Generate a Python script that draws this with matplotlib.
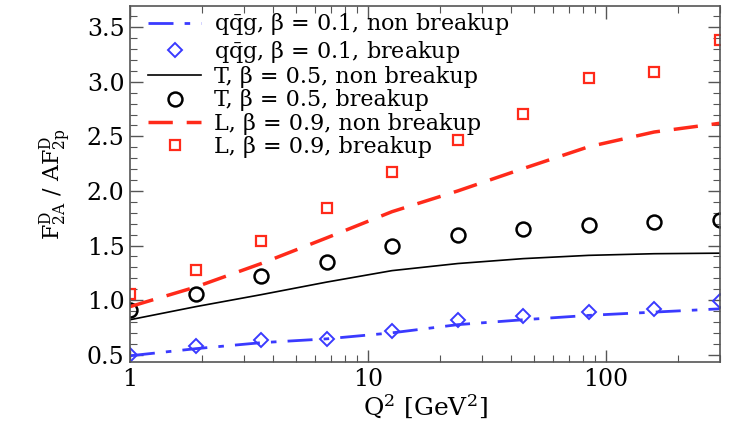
import matplotlib
matplotlib.use("Agg")
import matplotlib.pyplot as plt
from matplotlib.ticker import FixedLocator, MultipleLocator, NullFormatter

plt.rcParams['font.family'] = ['DejaVu Serif']
plt.rcParams['mathtext.fontset'] = 'dejavuserif'

# Q^2 grid [GeV^2]
q2 = [1.0, 1.89, 3.56, 6.70, 12.6, 23.8, 44.8, 84.4, 159.0, 300.0]

# qqg, beta = 0.1
qqg_nonbreak = [0.49, 0.555, 0.61, 0.645, 0.70, 0.775, 0.82, 0.86, 0.89, 0.92]
qqg_break = [0.495, 0.575, 0.63, 0.645, 0.715, 0.815, 0.855, 0.895, 0.92, 0.99]

# T, beta = 0.5
t_nonbreak = [0.82, 0.94, 1.05, 1.165, 1.27, 1.335, 1.38, 1.41, 1.425, 1.43]
t_break = [0.905, 1.06, 1.22, 1.345, 1.50, 1.595, 1.655, 1.69, 1.72, 1.73]

# L, beta = 0.9
l_nonbreak = [0.94, 1.12, 1.335, 1.57, 1.81, 2.0, 2.205, 2.405, 2.54, 2.62]
l_break = [1.06, 1.28, 1.54, 1.845, 2.17, 2.47, 2.705, 3.035, 3.09, 3.38]

blue = '#3a3aff'
red = '#ff2a1a'

fig = plt.figure(figsize=(7.3, 4.25), dpi=100)
ax = fig.add_axes([0.178, 0.148, 0.808, 0.838])

ax.plot(q2, qqg_nonbreak, color=blue, lw=2.0, dashes=(9, 4, 2, 4),
        label=r'q$\bar{\mathrm{q}}$g, β = 0.1, non breakup')
ax.plot(q2, qqg_break, ls='none', marker='D', ms=7, mfc='none', mec=blue,
        mew=1.4, label=r'q$\bar{\mathrm{q}}$g, β = 0.1, breakup')
ax.plot(q2, t_nonbreak, color='black', lw=1.2,
        label='T, β = 0.5, non breakup')
ax.plot(q2, t_break, ls='none', marker='o', ms=10, mfc='none', mec='black',
        mew=1.8, label='T, β = 0.5, breakup')
ax.plot(q2, l_nonbreak, color=red, lw=2.5, dashes=(7, 4),
        label='L, β = 0.9, non breakup')
ax.plot(q2, l_break, ls='none', marker='s', ms=6.5, mfc='none', mec=red,
        mew=1.6, label='L, β = 0.9, breakup')

ax.set_xscale('log')
ax.set_xlim(1, 300)
ax.set_ylim(0.432, 3.695)

ax.xaxis.set_major_locator(FixedLocator([1, 10, 100]))
ax.set_xticklabels(['1', '10', '100'])
ax.xaxis.set_minor_locator(FixedLocator(
    [m * d for d in (1, 10, 100) for m in range(2, 10) if m * d <= 300]))
ax.xaxis.set_minor_formatter(NullFormatter())
ax.yaxis.set_minor_locator(MultipleLocator(0.1))
ax.set_yticks([0.5, 1.0, 1.5, 2.0, 2.5, 3.0, 3.5])
ax.set_yticklabels(['0.5', '1.0', '1.5', '2.0', '2.5', '3.0', '3.5'])

ax.tick_params(which='both', direction='in', top=True, right=True,
               labelsize=17, color='#555555')
ax.tick_params(which='major', length=9, width=1.0, pad=4)
ax.tick_params(which='minor', length=5, width=0.8)
for s in ax.spines.values():
    s.set_color('#555555')
    s.set_linewidth(1.2)

ax.set_xlabel(r'Q$^2$ [GeV$^2$]', fontsize=18, labelpad=2)
ax.set_ylabel(r'F$^{\mathrm{D}}_{\mathrm{2A}}$ / AF$^{\mathrm{D}}_{\mathrm{2p}}$',
              fontsize=16)
ax.yaxis.set_label_coords(-0.097, 0.5)

ax.legend(loc='upper left', bbox_to_anchor=(0.008, 1.022), frameon=False,
          fontsize=16, labelspacing=0.06, handlelength=2.4,
          handletextpad=0.55, borderaxespad=0.2)

fig.savefig('out.png', dpi=100)
